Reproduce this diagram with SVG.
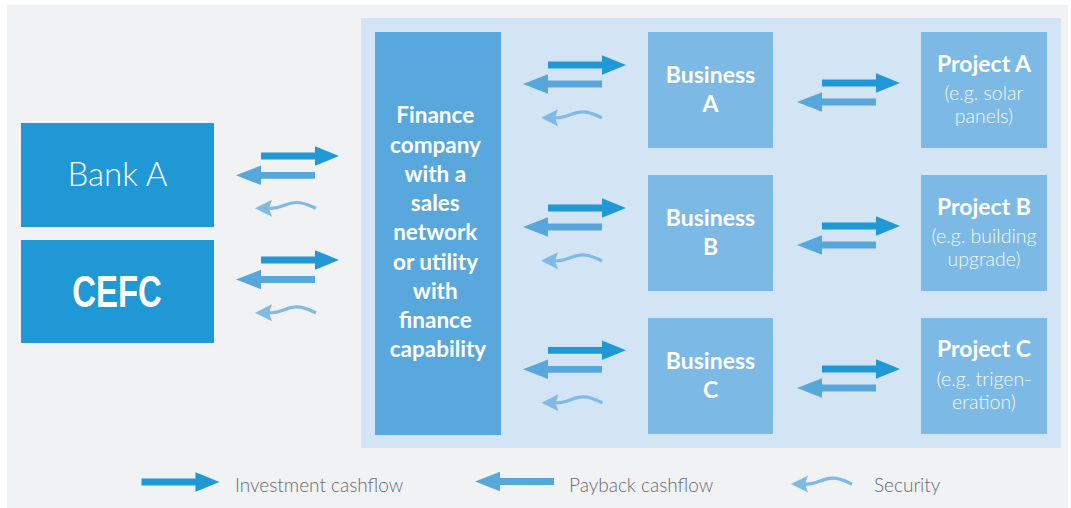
<svg xmlns="http://www.w3.org/2000/svg" xmlns:xlink="http://www.w3.org/1999/xlink" width="1071" height="508" viewBox="0 0 1071 508">
<style>
.bank{fill:#2198d6}
.fin{fill:#58a8dd}
.biz{fill:#7cb9e4}
.t{font-family:Lato,"Liberation Sans",sans-serif;fill:#ffffff;text-anchor:middle}
.b{font-weight:700;font-size:23px}
.bf{font-weight:700;font-size:22.5px}
.l{font-weight:300}
.sub{font-weight:300;font-size:19.5px;fill:#f4f9fd}
.leg{font-family:Lato,"Liberation Sans",sans-serif;font-weight:300;font-size:19px;fill:#6a6b6e}
.inv{fill:#2098d6}
.pay{fill:#58a7dc}
.sec{fill:#7fbae6}
.secl{fill:none;stroke:#7fbae6;stroke-width:3.2}
</style>
<defs>
<path id="ainv" class="inv" d="M0,-3.4 H54 V-9.8 L78,0 L54,9.8 V3.4 H0 Z"/>
<path id="apay" class="pay" d="M-25,0 L0,-9.8 V-3.4 H54 V3.4 H0 V9.8 Z"/>
<g id="asec">
<path class="sec" d="M0,0 L17,-8.5 L14,0 L17,8.5 Z"/>
<path class="secl" d="M14,0 C25,1 31,-6 42,-5.8 C50,-5.6 55,-2.5 61,0"/>
</g>
</defs>
<rect x="7" y="5" width="1061" height="503" fill="#f1f2f4"/>
<rect x="361" y="18" width="700" height="430" fill="#d3e5f5"/>

<g id="bankA">
<rect class="bank" x="21" y="123" width="193" height="104"/>
<text class="t l" x="117.5" y="186" font-size="33">Bank A</text>
</g>
<g id="cefc">
<rect class="bank" x="21" y="240" width="193" height="103"/>
<text x="117" y="307.3" font-family="'Liberation Sans Narrow','Liberation Sans',Arial,sans-serif" font-weight="700" font-size="45" fill="#ffffff" text-anchor="middle" textLength="89.5" lengthAdjust="spacingAndGlyphs">CEFC</text>
</g>
<g id="finance">
<rect class="fin" x="375" y="32" width="126" height="403"/>
<text class="t bf" x="438">
<tspan x="438" y="123.3">Finance</tspan>
<tspan x="438" y="152.5">company</tspan>
<tspan x="438" y="181.8">with a</tspan>
<tspan x="438" y="211">sales</tspan>
<tspan x="438" y="240.3">network</tspan>
<tspan x="438" y="269.5">or utility</tspan>
<tspan x="438" y="298.8">with</tspan>
<tspan x="438" y="328">finance</tspan>
<tspan x="438" y="357.3">capability</tspan>
</text>
</g>
<g id="businessA">
<rect class="biz" x="648" y="32" width="125" height="116"/>
<text class="t b"><tspan x="710.5" y="83.3">Business</tspan><tspan x="710.5" y="111.7">A</tspan></text>
</g>
<g id="businessB">
<rect class="biz" x="648" y="175" width="125" height="116"/>
<text class="t b"><tspan x="710.5" y="226.3">Business</tspan><tspan x="710.5" y="254.7">B</tspan></text>
</g>
<g id="businessC">
<rect class="biz" x="648" y="318" width="125" height="116"/>
<text class="t b"><tspan x="710.5" y="369.3">Business</tspan><tspan x="710.5" y="397.7">C</tspan></text>
</g>
<g id="projectA">
<rect class="biz" x="921" y="32" width="126" height="116"/>
<text class="t b" x="984" y="71.7">Project A</text>
<text class="t sub"><tspan x="984" y="99.5">(e.g. solar</tspan><tspan x="984" y="123.3">panels)</tspan></text>
</g>
<g id="projectB">
<rect class="biz" x="921" y="175" width="126" height="116"/>
<text class="t b" x="984" y="214.7">Project B</text>
<text class="t sub"><tspan x="984" y="242.5">(e.g. building</tspan><tspan x="984" y="266.3">upgrade)</tspan></text>
</g>
<g id="projectC">
<rect class="biz" x="921" y="318" width="126" height="116"/>
<text class="t b" x="984" y="357.3">Project C</text>
<text class="t sub"><tspan x="984" y="385.5">(e.g. trigen-</tspan><tspan x="984" y="409.3">eration)</tspan></text>
</g>

<g id="connectors">
<use xlink:href="#ainv" x="261" y="156"/>
<use xlink:href="#apay" x="261" y="175.3"/>
<use xlink:href="#asec" x="255" y="208.3"/>
<use xlink:href="#ainv" x="261" y="260"/>
<use xlink:href="#apay" x="261" y="279.5"/>
<use xlink:href="#asec" x="255" y="312.7"/>
<use xlink:href="#ainv" x="548" y="65"/>
<use xlink:href="#apay" x="548" y="84"/>
<use xlink:href="#asec" x="541" y="117.7"/>
<use xlink:href="#ainv" x="548" y="208"/>
<use xlink:href="#apay" x="548" y="227"/>
<use xlink:href="#asec" x="541" y="260.7"/>
<use xlink:href="#ainv" x="548" y="350.3"/>
<use xlink:href="#apay" x="548" y="369.3"/>
<use xlink:href="#asec" x="541.5" y="402.7"/>
<use xlink:href="#ainv" x="822" y="83"/>
<use xlink:href="#apay" x="822" y="102"/>
<use xlink:href="#ainv" x="822" y="226"/>
<use xlink:href="#apay" x="822" y="245"/>
<use xlink:href="#ainv" x="822" y="369"/>
<use xlink:href="#apay" x="822" y="388"/>
</g>

<g id="legend">
<use xlink:href="#ainv" x="141.5" y="482"/>
<text class="leg" x="235" y="491.5">Investment cashflow</text>
<use xlink:href="#apay" x="500" y="481.5"/>
<text class="leg" x="569" y="491.5">Payback cashflow</text>
<use xlink:href="#asec" x="791" y="484"/>
<text class="leg" x="874" y="491.5">Security</text>
</g>
</svg>
